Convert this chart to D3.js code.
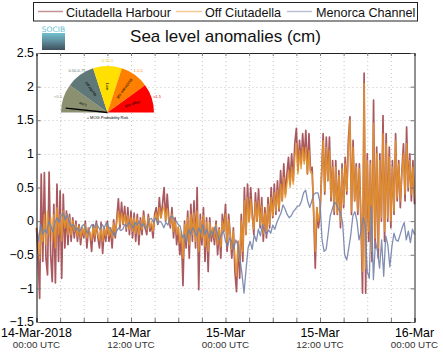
<!DOCTYPE html>
<html><head><meta charset="utf-8">
<script src="https://cdn.jsdelivr.net/npm/d3@7"></script>
<style>html,body{margin:0;padding:0;background:#fff}svg{display:block;font-family:"Liberation Sans",Arial,sans-serif}</style>
</head><body><svg id="c" width="443" height="359"></svg>
<script>
const title = "Sea level anomalies (cm)";
const seriesNames = ["Ciutadella Harbour","Off Ciutadella","Menorca Channel"];
const seriesColors = ["#8e2229","#e8952a","#7482aa"];
const yTicks = [-1.5,-1,-0.5,0,0.5,1,1.5,2,2.5];
const xGridHours = [0,3,6,9,12,15,18,21,24,27,30,33,36,39,42,45,48];
const xLabelHours = [0,12,24,36,48];
const xLabels = ["14-Mar-2018","14-Mar","15-Mar","15-Mar","16-Mar"];
const xSubLabels = ["00:00 UTC","12:00 UTC","00:00 UTC","12:00 UTC","00:00 UTC"];
const gaugeNames = ["Low","Moderate","Low","Moderate risk","High risk"];
const gaugeRanges = ["<0.5","0.50-0.75","0.75-1","1-1.5",">1.5"];
const gaugeColors = ["#8a9070","#607878","#ffe000","#ff8000","#ff0000"];
const gaugeNeedle = 0.17;

// one value every 12 minutes
const harbour = [
-0.1,-0.5,-1.15,0.7,-0.6,
0.72,-0.55,-0.8,0.73,-0.5,
-0.9,0.25,-0.92,0.55,-0.6,
0.45,-0.85,0.4,-0.4,0.15,
-0.35,0.1,-0.3,0.05,-0.25,
0.0,-0.3,-0.05,-0.35,-0.1,
-0.25,0,-0.4,-0.1,-0.2,
-0.45,-0.05,-0.3,0,-0.25,
-0.4,-0.02,-0.48,-0.1,-0.3,
0,-0.3,-0.1,-0.4,0.02,
-0.25,0.05,0.33,-0.1,0.28,
-0.05,0.22,-0.15,0.2,-0.2,
0.15,-0.25,0.12,-0.3,0.1,
-0.35,0.05,-0.2,0.15,-0.1,
-0.2,0.1,-0.15,-0.05,-0.25,
0.1,0.2,-0.05,0.35,0.05,
0.25,0.5,0.0,0.4,0.05,
-0.1,0.2,-0.25,0.05,-0.35,
-0.1,-0.5,-0.2,-0.96,0.0,
-0.4,0.15,-0.55,0.25,-0.3,
0.3,-0.4,0.5,-1.02,0.1,
-0.35,0.2,-0.6,0.05,-0.75,
0.05,-0.3,-0.1,-0.35,0.0,
-0.5,-0.1,-0.55,0.1,-0.15,
0.25,-0.45,0.1,-0.2,-0.55,
-0.1,-0.75,-1.05,-0.3,-0.85,
0.1,-0.6,0.5,-0.2,0.55,
0,0.5,0.1,-0.2,0.42,
0.0,0.48,-0.1,0.35,-0.3,
0.2,-0.25,0.35,-0.1,0.5,
0.05,0.55,0.1,0.6,0.15,
0.75,0.3,0.85,0.4,0.7,
0.95,0.55,1.0,0.6,1.15,
1.38,0.75,1.2,0.85,1.3,
0.9,1.35,0.7,1.3,0.75,
0.8,0.1,-0.7,0.2,-0.1,
0.1,0.7,1.3,0.4,1.25,
0.6,1.25,0.3,0.9,0.1,
0.9,0.1,0.75,-0.1,0.85,
0.2,0.95,0.4,1.2,1.55,
0.1,1.2,0.3,0.85,0.1,
0.85,0.0,-1.07,2.2,-1.07,
1.0,-0.3,0.9,-0.6,1.8,
-0.4,1.1,-0.55,1.0,0.0,
1.57,-0.3,1.3,0.0,1.1,
-0.1,0.9,0.1,1.3,0.3,
0.9,0.2,0.75,1.15,0.3,
1.4,0.45,1.0,0.3,0.9,0.25];

const offshore = [
-0.1,-0.2,-0.55,-0.1,-0.3,
0.1,-0.35,0.15,-0.2,0.05,
-0.3,0.1,-0.4,0.2,-0.2,
0.1,-0.3,0.15,-0.1,0.1,
-0.2,0.05,-0.2,0,-0.15,
-0.05,-0.22,-0.08,-0.25,-0.1,
-0.2,-0.05,-0.25,-0.1,-0.18,
-0.28,-0.08,-0.22,-0.05,-0.2,
-0.28,-0.08,-0.3,-0.12,-0.22,
-0.05,-0.22,-0.1,-0.25,-0.03,
-0.18,0.0,0.15,-0.05,0.12,
-0.03,0.1,-0.1,0.08,-0.12,
0.05,-0.15,0.05,-0.18,0.03,
-0.2,0.0,-0.12,0.08,-0.05,
-0.12,0.05,-0.1,0.0,-0.15,
0.05,0.12,0.0,0.2,0.05,
0.15,0.22,0.02,0.18,0.0,
-0.05,0.1,-0.15,0.0,-0.2,
-0.08,-0.32,-0.15,-0.55,-0.05,
-0.28,0.05,-0.35,0.1,-0.2,
0.12,-0.3,0.15,-0.45,0.02,
-0.25,0.08,-0.38,-0.02,-0.45,
-0.02,-0.22,-0.1,-0.25,-0.05,
-0.35,-0.12,-0.38,0.0,-0.15,
0.1,-0.32,0.02,-0.2,-0.42,
-0.15,-0.55,-0.82,-0.3,-0.6,
0.0,-0.45,0.3,-0.2,0.35,
-0.02,0.32,0.05,-0.12,0.28,
0.0,0.3,-0.05,0.22,-0.18,
0.12,-0.15,0.25,-0.05,0.35,
0.08,0.42,0.15,0.45,0.18,
0.55,0.3,0.65,0.35,0.55,
0.75,0.5,0.8,0.55,0.95,
1.15,0.7,1.05,0.78,1.1,
0.85,1.1,0.7,1.05,0.72,
0.7,0.15,-0.45,0.2,0.0,
0.15,0.65,1.2,0.45,1.1,
0.6,1.05,0.35,0.8,0.15,
0.8,0.12,0.68,0.0,0.78,
0.25,0.85,0.45,1.05,1.5,
0.15,1.1,0.3,0.8,0.15,
0.78,0.05,-0.75,2.05,-0.7,
0.9,-0.15,0.85,-0.45,1.45,
-0.25,1.0,-0.4,0.9,0.05,
1.3,-0.15,1.15,0.05,0.95,
0.0,0.8,0.15,1.2,0.35,
0.85,0.3,0.7,1.0,0.4,
1.15,0.5,0.9,0.4,0.8,0.35];

// one value every 15 minutes
const channel = [
-0.15,-0.3,-0.05,-0.2,
-0.12,-0.18,0.0,-0.08,
-0.16,-0.02,0.05,-0.02,
0.08,0.12,0.02,0.1,
-0.02,-0.08,-0.05,-0.14,
-0.1,-0.16,-0.08,-0.05,
-0.12,-0.18,-0.1,-0.05,
-0.1,-0.03,-0.08,-0.13,
-0.05,-0.1,-0.02,-0.08,
-0.12,-0.17,-0.22,-0.15,
-0.1,-0.14,-0.12,-0.05,
-0.08,-0.02,-0.05,-0.1,
-0.02,-0.06,0.0,-0.08,
-0.04,-0.12,-0.06,0.03,
0.04,-0.02,0.05,-0.04,
0.0,-0.03,-0.1,-0.02,
-0.06,0.05,0.08,0.02,
0.0,-0.05,-0.08,-0.25,
-0.2,-0.32,-0.12,-0.2,
-0.1,-0.15,-0.22,-0.1,
-0.18,-0.05,-0.2,-0.12,
-0.25,-0.15,-0.2,-0.08,
-0.18,-0.28,-0.2,-0.15,
-0.3,-0.38,-0.25,-0.3,
-0.42,-0.28,-0.35,-0.55,
-0.78,-1.07,-0.72,-0.4,
-0.3,-0.42,-0.2,-0.3,
-0.12,-0.22,-0.05,-0.14,
-0.2,-0.13,-0.18,-0.06,
-0.12,-0.02,0.05,0.12,
0.24,0.18,0.1,0.05,
0.08,0.14,0.18,0.22,
0.23,0.3,0.42,0.46,
0.3,0.2,0.3,0.4,
0.42,0.42,0.28,-0.28,
-0.45,-0.42,-0.18,0.08,
0.18,0.28,0.25,0.18,
0.12,-0.02,-0.5,-0.58,
-0.4,-0.2,0.08,0.14,
0.0,-0.28,-0.15,0.05,
-0.06,-0.75,-0.85,0.22,
-0.87,-0.3,-0.45,-0.7,
-0.28,-0.82,-0.22,-0.35,
-0.68,-0.38,-0.18,-0.28,
-0.3,-0.2,-0.1,-0.02,
-0.28,-0.15,-0.32,-0.12,-0.2];

const W=443,H=359;
const m={l:36.5,r:414.5,t:53,b:322};
const x=d3.scaleLinear().domain([0,48]).range([m.l,m.r]);
const y=d3.scaleLinear().domain([-1.5,2.5]).range([m.b,m.t]);
const svg=d3.select("#c");

// grid
const g=svg.append("g");
g.selectAll(".gx").data(xGridHours.slice(1,-1)).join("line")
 .attr("x1",d=>x(d)+.5).attr("x2",d=>x(d)+.5).attr("y1",m.t).attr("y2",m.b)
 .attr("stroke","#c4c4c4").attr("stroke-dasharray","1 3");
g.selectAll(".gy").data(yTicks.slice(1,-1)).join("line")
 .attr("x1",m.l).attr("x2",m.r).attr("y1",d=>Math.round(y(d))+.5).attr("y2",d=>Math.round(y(d))+.5)
 .attr("stroke","#c4c4c4").attr("stroke-dasharray","1 3");

// series
const lineFor=(arr)=>d3.line().x((d,i)=>x(i*48/(arr.length-1))).y(d=>y(d));
[harbour,offshore,channel].forEach((arr,i)=>{
  svg.append("path").datum(arr).attr("d",lineFor(arr)).attr("fill","none")
   .attr("stroke",seriesColors[i]).attr("stroke-width",[1.7,1.5,1.3][i])
   .attr("stroke-opacity",[.75,.85,.9][i]).attr("stroke-linejoin","round");
});

// axes
const ax=svg.append("g");
const axB=d3.axisBottom(x).tickValues(xGridHours).tickSize(-4).tickFormat("");
const axT=d3.axisTop(x).tickValues(xGridHours).tickSize(-3).tickFormat("");
const axL=d3.axisLeft(y).tickValues(yTicks).tickSize(-4).tickFormat(d3.format("~g"));
const axR=d3.axisRight(y).tickValues(yTicks).tickSize(-4).tickFormat("");
ax.append("g").attr("transform",`translate(0,${m.b})`).call(axB);
ax.append("g").attr("transform",`translate(0,${m.t})`).call(axT);
const gl=ax.append("g").attr("transform",`translate(${m.l},0)`).call(axL);
ax.append("g").attr("transform",`translate(${m.r},0)`).call(axR);
ax.selectAll(".domain").attr("stroke","#222").attr("stroke-width",1);
ax.selectAll(".tick line").attr("stroke","#777");
gl.selectAll("text").attr("font-size",12.4).attr("font-family","Liberation Sans").attr("fill","#000").attr("x",-2.5).attr("dy","0.3em");
gl.select(".domain").attr("stroke","#000");

// x labels
svg.selectAll(".xl").data(xLabelHours).join("text")
 .attr("x",d=>x(d)).attr("y",337).attr("text-anchor","middle").attr("font-size",12.4)
 .text((d,i)=>xLabels[i]);
svg.selectAll(".xs").data(xLabelHours).join("text")
 .attr("x",d=>x(d)).attr("y",348).attr("text-anchor","middle").attr("font-size",9.8).attr("fill","#333")
 .text((d,i)=>xSubLabels[i]);

// title
svg.append("text").attr("x",225.5).attr("y",42).attr("text-anchor","middle").attr("font-size",17).attr("fill","#111").text(title);

// legend
svg.append("rect").attr("x",33.5).attr("y",2.5).attr("width",384).attr("height",18.5).attr("fill","#fff").attr("stroke","#222");
const legX=[[38,63,66],[176,202,205],[287,312,316]];
seriesNames.forEach((n,i)=>{
  svg.append("line").attr("x1",legX[i][0]).attr("x2",legX[i][1]).attr("y1",11.5).attr("y2",11.5)
   .attr("stroke",seriesColors[i]).attr("stroke-opacity",.5).attr("stroke-width",1.5);
  svg.append("text").attr("x",legX[i][2]).attr("y",17).attr("font-size",12.6).attr("fill","#111").text(n);
});

// logo
const defs=svg.append("defs");
const lg=defs.append("linearGradient").attr("id","lg").attr("x1",0).attr("x2",0).attr("y1",0).attr("y2",1);
lg.append("stop").attr("offset",0).attr("stop-color","#6fc0d0");
lg.append("stop").attr("offset",.5).attr("stop-color","#5f8b9a");
lg.append("stop").attr("offset",1).attr("stop-color","#3f4f5c");
svg.append("rect").attr("x",42).attr("y",33).attr("width",23).attr("height",17).attr("fill","url(#lg)");
svg.append("text").attr("x",53.5).attr("y",32).attr("text-anchor","middle").attr("font-size",7.5).attr("font-family","DejaVu Sans").attr("fill","#62c0d2").text("SOCIB");

// gauge
const gc={x:107.5,y:112.5};
const gr=d3.scaleLinear().domain([0,5]).range([-Math.PI/2,Math.PI/2]);
const arc=d3.arc().innerRadius(0).outerRadius(46.5);
const gg=svg.append("g").attr("transform",`translate(${gc.x},${gc.y})`);
gaugeColors.forEach((c,i)=>{
  gg.append("path").attr("d",arc({startAngle:gr(i),endAngle:gr(i+1)})).attr("fill",c);
  const mid=gr(i+.5);
  const rr=(i==1||i==3)?29:26;
  const px=Math.sin(mid)*rr,py=-Math.cos(mid)*rr;
  let rot=mid*180/Math.PI-90; if(i>=3) rot+=180; if(i==2) rot=90;
  gg.append("text").attr("transform",`translate(${px},${py}) rotate(${rot})`).attr("text-anchor","middle").attr("dy",1.5)
    .attr("font-size",4).attr("fill","#000").text(gaugeNames[i]);
  const lx=Math.sin(mid)*52,ly=-Math.cos(mid)*52;
  gg.append("text").attr("x",lx).attr("y",ly+1.5).attr("text-anchor","middle").attr("font-size",4)
    .attr("fill",["#8a9070","#607878","#e8c800","#ff8000","#ff0000"][i]).text(gaugeRanges[i]);
});
const na=gr(gaugeNeedle);
gg.append("line").attr("x1",0).attr("y1",0).attr("x2",Math.sin(na)*42).attr("y2",-Math.cos(na)*42).attr("stroke","#000").attr("stroke-width",1.3);
gg.append("text").attr("x",0).attr("y",6).attr("dy",.5).attr("text-anchor","middle").attr("font-size",4).attr("fill","#000").text("+ MOG Probability Risk");
</script></body></html>
